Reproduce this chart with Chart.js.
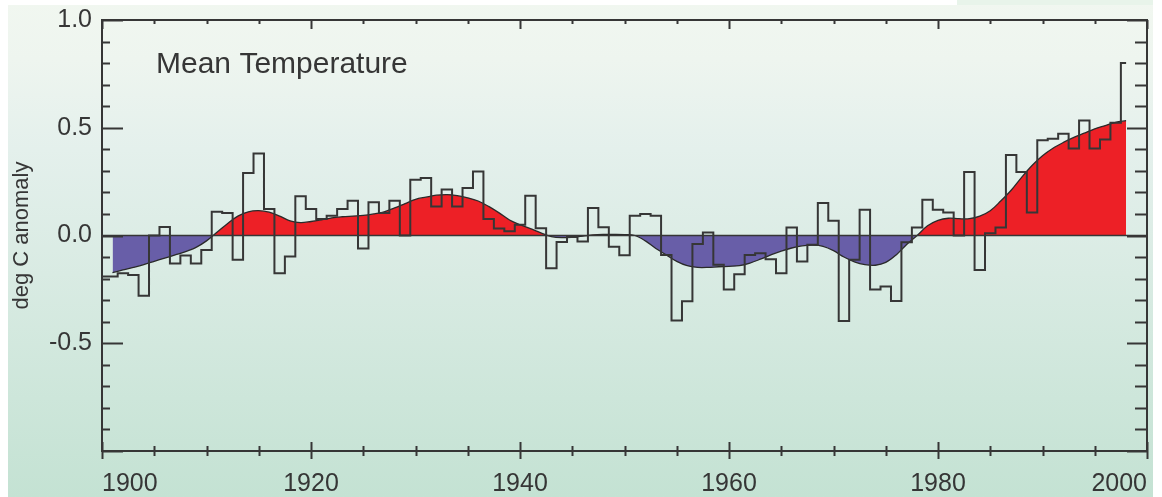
<!DOCTYPE html>
<html>
<head>
<meta charset="utf-8">
<script src="https://cdn.jsdelivr.net/npm/chart.js@4.4.0/dist/chart.umd.min.js"></script>
<style>
  html, body { margin: 0; padding: 0; background: #fff; }
  #wrap { width: 1162px; height: 497px; position: relative; }
</style>
</head>
<body>
<div id="wrap"><canvas id="myChart" width="1162" height="497"></canvas></div>
<script>
// annual anomalies (step line), 1900-1998
const stepYears = [1900,1901,1902,1903,1904,1905,1906,1907,1908,1909,
  1910,1911,1912,1913,1914,1915,1916,1917,1918,1919,
  1920,1921,1922,1923,1924,1925,1926,1927,1928,1929,
  1930,1931,1932,1933,1934,1935,1936,1937,1938,1939,
  1940,1941,1942,1943,1944,1945,1946,1947,1948,1949,
  1950,1951,1952,1953,1954,1955,1956,1957,1958,1959,
  1960,1961,1962,1963,1964,1965,1966,1967,1968,1969,
  1970,1971,1972,1973,1974,1975,1976,1977,1978,1979,
  1980,1981,1982,1983,1984,1985,1986,1987,1988,1989,
  1990,1991,1992,1993,1994,1995,1996,1997,1998];
const stepValues = [-0.19,-0.19,-0.175,-0.183,-0.28,0.0,0.04,-0.13,-0.093,-0.13,
  -0.067,0.11,0.104,-0.113,0.29,0.38,0.123,-0.175,-0.098,0.182,
  0.123,0.076,0.092,0.123,0.161,-0.06,0.154,0.104,0.161,0.0,
  0.259,0.267,0.135,0.213,0.135,0.22,0.297,0.076,0.032,0.02,
  0.05,0.185,0.034,-0.152,-0.03,-0.007,-0.028,0.128,0.038,-0.052,
  -0.092,0.092,0.10,0.092,-0.09,-0.395,-0.305,-0.039,0.014,-0.136,
  -0.25,-0.18,-0.09,-0.082,-0.11,-0.175,0.037,-0.121,-0.043,0.151,
  0.068,-0.397,-0.113,0.12,-0.25,-0.237,-0.304,-0.031,0.037,0.166,
  0.12,0.107,0.0,0.295,-0.16,0.011,0.037,0.373,0.295,0.107,
  0.442,0.449,0.472,0.404,0.534,0.404,0.446,0.523,0.80];

// smoothed curve (filled red/blue), 1901-1998
const smoothYears = stepYears.slice(1);
const smoothValues = [-0.172,-0.16,-0.148,-0.135,-0.12,-0.105,-0.09,-0.075,-0.055,
  -0.025,0.015,0.055,0.09,0.11,0.115,0.108,0.09,0.068,0.06,
  0.065,0.072,0.082,0.087,0.09,0.093,0.1,0.11,0.128,0.148,
  0.168,0.178,0.187,0.19,0.185,0.175,0.16,0.135,0.105,0.072,
  0.05,0.032,0.012,-0.005,-0.01,-0.008,-0.003,0.003,0.005,0.005,
  0.004,0.0,-0.025,-0.06,-0.09,-0.12,-0.14,-0.148,-0.148,-0.145,
  -0.143,-0.14,-0.128,-0.11,-0.09,-0.072,-0.058,-0.048,-0.045,-0.05,
  -0.07,-0.1,-0.122,-0.135,-0.138,-0.125,-0.09,-0.042,0.0,0.045,
  0.07,0.08,0.078,0.078,0.09,0.115,0.16,0.21,0.27,0.325,
  0.37,0.405,0.432,0.455,0.475,0.495,0.51,0.525,0.533];

const yLabels = [1.0, 0.5, 0.0, -0.5];
const xLabels = [1900, 1920, 1940, 1960, 1980, 2000];
const chartTitle = 'Mean Temperature';
const yTitle = 'deg C anomaly';

const ink = '#363636';

// background gradient
const bgPlugin = {
  id: 'bg',
  beforeDraw(chart) {
    const ctx = chart.ctx;
    ctx.save();
    ctx.fillStyle = '#ffffff';
    ctx.fillRect(0, 0, chart.width, chart.height);
    const g = ctx.createLinearGradient(0, 0, 0, chart.height);
    g.addColorStop(0, '#f1f7f0');
    g.addColorStop(0.12, '#eef5ef');
    g.addColorStop(0.3, '#e4f0ec');
    g.addColorStop(0.55, '#d9ebe3');
    g.addColorStop(0.8, '#cde6da');
    g.addColorStop(1, '#c4e2d3');
    ctx.fillStyle = g;
    ctx.fillRect(8, 5, 1145, chart.height - 5);
    ctx.fillStyle = '#e8f4ea';
    ctx.fillRect(957, 0, 196, 5);
    ctx.restore();
  }
};

// frame, inward ticks, zero line, inset title
const framePlugin = {
  id: 'frame',
  afterDatasetsDraw(chart) {
    const {ctx, chartArea: a, scales: {x, y}} = chart;
    ctx.save();
    ctx.strokeStyle = ink;
    ctx.lineWidth = 1.6;
    ctx.beginPath();
    const y0 = y.getPixelForValue(0);
    ctx.moveTo(a.left, y0); ctx.lineTo(a.right, y0);
    ctx.stroke();

    ctx.lineWidth = 2;
    ctx.strokeRect(a.left, a.top, a.right - a.left, a.bottom - a.top);

    ctx.beginPath();
    for (let i = -10; i <= 10; i++) {
      const v = i / 10;
      const py = Math.round(y.getPixelForValue(v)) + 0.5;
      const major = i % 5 === 0;
      ctx.moveTo(a.left, py); ctx.lineTo(a.left + (major ? 21 : 8), py);
      ctx.moveTo(a.right, py); ctx.lineTo(a.right - (major ? 20 : 12), py);
    }
    for (let yr = 1900; yr <= 2000; yr += 5) {
      const px = Math.round(x.getPixelForValue(yr)) + 0.5;
      const major = yr % 20 === 0;
      ctx.moveTo(px, a.bottom - (major ? 9 : 5)); ctx.lineTo(px, a.bottom + (major ? 8 : 5));
      ctx.moveTo(px, a.top); ctx.lineTo(px, a.top + (major ? 9 : 4));
    }
    ctx.stroke();

    ctx.fillStyle = ink;
    ctx.font = '30px "Liberation Sans", Arial, sans-serif';
    ctx.textBaseline = 'alphabetic';
    ctx.textAlign = 'left';
    ctx.fillText(chartTitle, a.left + 54, a.top + 53);
    ctx.restore();
  }
};

new Chart('myChart', {
  type: 'line',
  data: {
    datasets: [{
      label: 'annual',
      data: stepYears.map((yr, i) => ({x: yr, y: stepValues[i]})),
      stepped: 'middle',
      borderColor: ink,
      borderWidth: 2,
      pointRadius: 0,
      fill: false,
      order: 0
    }, {
      label: 'smoothed',
      data: smoothYears.map((yr, i) => ({x: yr, y: smoothValues[i]})),
      borderColor: '#2a2a2a',
      borderWidth: 1.3,
      pointRadius: 0,
      tension: 0.35,
      fill: {target: {value: 0}, above: 'rgb(237,32,38)', below: 'rgb(104,94,168)'},
      order: 1
    }]
  },
  options: {
    responsive: false,
    animation: false,
    devicePixelRatio: 1,
    layout: {padding: {top: 20, right: 15, left: 0, bottom: 0}},
    plugins: {legend: {display: false}, tooltip: {enabled: false}},
    scales: {
      x: {
        type: 'linear',
        min: 1900, max: 2000,
        grid: {display: false, drawTicks: false},
        border: {display: false},
        ticks: {
          stepSize: 20,
          align: 'inner',
          padding: 18,
          color: ink,
          maxRotation: 0,
          font: {family: '"Liberation Sans", Arial, sans-serif', size: 25},
          callback: v => xLabels.includes(v) ? String(v) : ''
        },
        afterFit: s => { s.height = 46; s.paddingLeft = 0; s.paddingRight = 0; }
      },
      y: {
        min: -1, max: 1,
        grid: {display: false, drawTicks: false},
        border: {display: false},
        ticks: {
          stepSize: 0.5,
          padding: 10,
          color: ink,
          font: {family: '"Liberation Sans", Arial, sans-serif', size: 25},
          callback: v => yLabels.includes(v) ? v.toFixed(1) : ''
        },
        title: {
          display: true,
          text: yTitle,
          color: ink,
          padding: {top: 9, bottom: 0},
          font: {family: '"Liberation Sans", Arial, sans-serif', size: 22}
        },
        afterFit: s => { s.width = 102; s.paddingTop = 0; s.paddingBottom = 0; }
      }
    }
  },
  plugins: [bgPlugin, framePlugin]
});
</script>
</body>
</html>
